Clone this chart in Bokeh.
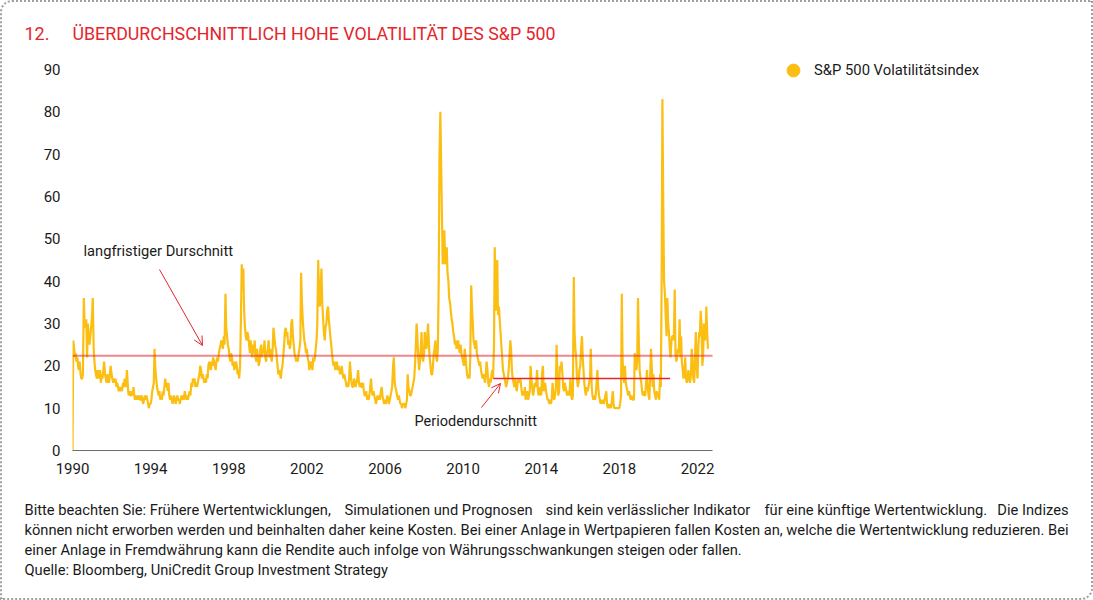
import pandas as pd
import numpy as np
from bokeh.plotting import figure
from bokeh.layouts import column
from bokeh.models import (Label, Arrow, OpenHead, FixedTicker, Legend, LegendItem,
                          ColumnDataSource, BasicTickFormatter)
from bokeh.embed import file_html
from bokeh.resources import INLINE

# ---------------------------------------------------------------------------
# Data: S&P 500 volatility index at the 1st and 15th of
# every month (24 readings per year), January 1990 – July 2022
# ---------------------------------------------------------------------------
vix_1990 = [0, 26, 24, 22, 23, 21, 22, 20, 19, 21, 18, 17, 17, 18, 36, 30, 29, 31, 22, 30, 27, 25, 27, 29]
vix_1991 = [32, 36, 24, 21, 19, 18, 17, 19, 18, 17, 19, 16, 18, 17, 19, 21, 18, 17, 16, 18, 17, 16, 18, 20]
vix_1992 = [18, 17, 16, 17, 16, 17, 15, 16, 15, 14, 15, 14, 15, 14, 16, 15, 17, 15, 16, 19, 15, 13, 14, 13]
vix_1993 = [13, 14, 13, 15, 13, 12, 13, 12, 13, 12, 13, 12, 12, 13, 12, 11, 12, 13, 12, 13, 12, 11, 10, 11]
vix_1994 = [11, 12, 14, 15, 16, 24, 19, 17, 15, 14, 13, 14, 12, 13, 12, 14, 13, 15, 17, 15, 16, 14, 16, 13]
vix_1995 = [12, 13, 12, 11, 12, 13, 12, 11, 12, 13, 12, 12, 11, 12, 13, 12, 13, 12, 14, 13, 12, 13, 12, 13]
vix_1996 = [14, 13, 16, 15, 17, 16, 17, 15, 16, 15, 16, 17, 18, 20, 19, 17, 18, 17, 16, 17, 16, 18, 17, 20]
vix_1997 = [21, 20, 19, 21, 20, 22, 21, 20, 19, 21, 22, 21, 23, 24, 25, 26, 25, 24, 27, 25, 37, 29, 27, 25]
vix_1998 = [24, 22, 21, 23, 22, 20, 21, 19, 20, 21, 20, 18, 19, 17, 20, 30, 44, 38, 43, 33, 29, 27, 26, 28]
vix_1999 = [27, 25, 23, 26, 24, 22, 25, 23, 26, 22, 21, 24, 22, 20, 21, 24, 25, 22, 24, 23, 26, 22, 21, 23]
vix_2000 = [24, 26, 22, 24, 22, 21, 24, 29, 27, 25, 24, 22, 20, 18, 19, 18, 17, 19, 20, 22, 25, 28, 29, 27]
vix_2001 = [28, 25, 26, 24, 25, 30, 31, 27, 25, 23, 22, 21, 22, 21, 23, 24, 26, 42, 35, 31, 28, 26, 25, 23]
vix_2002 = [24, 22, 21, 19, 20, 21, 20, 19, 22, 21, 22, 24, 26, 30, 45, 37, 34, 39, 43, 35, 31, 28, 26, 29]
vix_2003 = [30, 33, 34, 31, 29, 27, 25, 23, 21, 20, 21, 19, 20, 21, 19, 20, 19, 18, 19, 20, 18, 17, 18, 17]
vix_2004 = [16, 15, 16, 15, 17, 21, 18, 16, 15, 15, 17, 16, 15, 16, 17, 19, 16, 15, 16, 15, 15, 16, 14, 13]
vix_2005 = [13, 14, 12, 13, 12, 13, 15, 17, 14, 13, 14, 13, 12, 11, 12, 13, 12, 13, 12, 14, 15, 13, 12, 11]
vix_2006 = [12, 11, 12, 13, 12, 11, 12, 13, 14, 15, 20, 22, 16, 15, 14, 13, 12, 13, 12, 11, 11, 10, 11, 11]
vix_2007 = [11, 10, 11, 12, 18, 15, 14, 13, 13, 14, 15, 16, 17, 20, 25, 30, 26, 22, 19, 21, 24, 28, 22, 21]
vix_2008 = [23, 28, 25, 24, 27, 30, 25, 22, 20, 18, 18, 20, 23, 24, 26, 22, 21, 24, 40, 69, 80, 68, 55, 44]
vix_2009 = [45, 52, 44, 46, 48, 42, 40, 36, 35, 33, 31, 30, 28, 27, 25, 26, 24, 25, 26, 24, 23, 25, 23, 22]
vix_2010 = [21, 20, 24, 22, 20, 18, 17, 18, 17, 22, 39, 34, 30, 26, 25, 24, 26, 23, 22, 21, 20, 21, 19, 18]
vix_2011 = [17, 18, 17, 16, 18, 21, 19, 16, 15, 17, 16, 18, 19, 17, 25, 48, 33, 40, 45, 32, 34, 31, 28, 25]
vix_2012 = [22, 19, 18, 17, 16, 15, 16, 17, 19, 22, 26, 24, 19, 17, 16, 15, 17, 15, 14, 16, 17, 16, 17, 16]
vix_2013 = [14, 13, 14, 13, 15, 12, 13, 14, 12, 13, 14, 20, 17, 15, 13, 14, 16, 15, 16, 19, 14, 13, 14, 15]
vix_2014 = [13, 18, 20, 14, 15, 16, 14, 13, 12, 12, 11, 12, 11, 12, 16, 13, 12, 13, 15, 25, 16, 13, 14, 20]
vix_2015 = [19, 21, 18, 15, 14, 16, 15, 14, 13, 14, 13, 14, 17, 13, 12, 13, 41, 28, 24, 22, 17, 15, 16, 19]
vix_2016 = [20, 24, 27, 22, 19, 16, 14, 13, 15, 14, 15, 16, 17, 24, 15, 13, 12, 13, 12, 13, 16, 19, 15, 13]
vix_2017 = [12, 11, 12, 11, 12, 11, 12, 13, 14, 11, 10, 11, 10, 11, 10, 12, 14, 11, 10, 10, 10, 10, 10, 10]
vix_2018 = [10, 11, 13, 37, 22, 18, 16, 20, 16, 15, 14, 13, 14, 13, 12, 13, 12, 12, 12, 23, 20, 19, 21, 36]
vix_2019 = [25, 19, 17, 16, 14, 13, 14, 13, 13, 16, 19, 15, 13, 12, 18, 24, 19, 15, 18, 14, 13, 12, 14, 13]
vix_2020 = [13, 12, 18, 15, 40, 83, 57, 40, 37, 32, 27, 36, 30, 28, 24, 22, 26, 27, 27, 26, 38, 23, 21, 22]
vix_2021 = [24, 23, 31, 22, 27, 21, 19, 17, 18, 22, 17, 16, 17, 19, 17, 16, 18, 24, 21, 17, 16, 22, 28, 20]
vix_2022 = [17, 24, 28, 27, 33, 30, 20, 22, 30, 29, 26, 34, 28, 24]

vix_values = (vix_1990 + vix_1991 + vix_1992 + vix_1993 + vix_1994 + vix_1995 + vix_1996 +
              vix_1997 + vix_1998 + vix_1999 + vix_2000 + vix_2001 + vix_2002 + vix_2003 +
              vix_2004 + vix_2005 + vix_2006 + vix_2007 + vix_2008 + vix_2009 + vix_2010 +
              vix_2011 + vix_2012 + vix_2013 + vix_2014 + vix_2015 + vix_2016 + vix_2017 +
              vix_2018 + vix_2019 + vix_2020 + vix_2021 + vix_2022)

long_term_avg = 22.4                      # "langfristiger Durschnitt"
long_term_span = [1990.0, 2022.77]
period_avg = 17.0                         # "Periodendurschnitt"
period_dates = ["2011-07-20", "2020-08-05"]

x_tick_years = [1990, 1994, 1998, 2002, 2006, 2010, 2014, 2018, 2022]
y_ticks = [0, 10, 20, 30, 40, 50, 60, 70, 80, 90]

series_name = "S&P 500 Volatilitätsindex"
title_no = "12."
title_text = "ÜBERDURCHSCHNITTLICH HOHE VOLATILITÄT DES S&P 500"
label_long = "langfristiger Durschnitt"
label_period = "Periodendurschnitt"
note_line1 = ["Bitte beachten Sie: Frühere Wertentwicklungen,", "Simulationen und Prognosen",
              "sind kein verlässlicher Indikator", "für eine künftige Wertentwicklung.",
              "Die Indizes"]
note_line2 = ["können nicht erworben werden und beinhalten daher keine Kosten. Bei einer Anlage",
              "in Wertpapieren fallen Kosten an, welche die Wertentwicklung reduzieren. Bei"]
note_line3 = "einer Anlage in Fremdwährung kann die Rendite auch infolge von Währungsschwankungen steigen oder fallen."
note_line4 = "Quelle: Bloomberg, UniCredit Group Investment Strategy"

# ---------------------------------------------------------------------------
def frac_year(d):
    d = pd.DatetimeIndex(pd.to_datetime(d))
    return np.asarray(d.year + (d.dayofyear - 1) / 365.25, dtype=float)

dates = pd.date_range("1990-01-01", periods=len(vix_values), freq="SMS")
src = ColumnDataSource(dict(x=frac_year(dates), y=vix_values))

YELLOW = "#FBBF14"
RED = "#E4262C"
FONT = "Roboto"
TXT = "#1a1a1a"
W = 1089

def no_align(f):
    try:
        f.frame_align = False
    except Exception:
        pass
    return f

def blank_fig(h):
    f = figure(width=W, height=h, output_backend="svg", toolbar_location=None,
               x_range=(0, 1), y_range=(0, 1),
               min_border_left=0, min_border_right=0, min_border_top=0, min_border_bottom=0,
               background_fill_color="white", border_fill_color="white")
    f.axis.visible = False
    f.grid.visible = False
    f.outline_line_color = None
    return no_align(f)

def put(fig, txt, x, y, size, color=TXT, align="left"):
    fig.add_layout(Label(x=x, y=y, x_units="screen", y_units="screen", text=txt,
                         text_font=FONT, text_font_size=size, text_color=color,
                         text_align=align, text_baseline="middle"))

# ---------------- title strip (page y 2..50) ----------------
top = blank_fig(48)
put(top, title_no, 24 - 2, 50 - 33, "18px", RED)
put(top, title_text, 72 - 2, 50 - 33, "17.8px", RED)

# ---------------- main chart (page y 50..490) ----------------
PX_PER_YEAR = (697 - 72) / 32.0
PX_PER_UNIT = (450 - 69) / 90.0
x_end = 1990 + (1091 - 72) / PX_PER_YEAR
y_end = (450 - 50) / PX_PER_UNIT

p = figure(width=W, height=440, output_backend="svg", toolbar_location=None,
           x_range=(1990, x_end), y_range=(0, y_end),
           min_border_left=70, min_border_right=0, min_border_top=0, min_border_bottom=40,
           background_fill_color="white", border_fill_color="white")
no_align(p)
p.outline_line_color = None
p.grid.visible = False

p.line("x", "y", source=src, line_color=YELLOW, line_width=2.2)
p.line(long_term_span, [long_term_avg, long_term_avg], line_color=RED, line_alpha=0.55, line_width=2)
p.line(frac_year(period_dates), [period_avg, period_avg], line_color=RED, line_width=1.5)

p.xaxis.ticker = FixedTicker(ticks=x_tick_years)
p.xaxis.formatter = BasicTickFormatter(use_scientific=False)
p.xaxis.bounds = (1990, long_term_span[1])
p.yaxis.ticker = FixedTicker(ticks=y_ticks)
for ax in (p.xaxis[0], p.yaxis[0]):
    ax.major_tick_line_color = None
    ax.minor_tick_line_color = None
    ax.major_tick_out = 0
    ax.major_tick_in = 0
    ax.major_label_text_font = FONT
    ax.major_label_text_font_size = "15px"
    ax.major_label_text_color = TXT
    ax.major_label_standoff = 12
p.xaxis.axis_line_color = "#6e6e6e"
p.xaxis.axis_line_width = 1.2
p.yaxis.axis_line_color = None

def sx(rx):
    return rx - 72

def sy(ry):
    return 450 - ry

# legend key: a hidden marker renderer over the series (drawn only in the legend)
dot_r = p.scatter("x", "y", source=src, marker="circle", size=13,
                  fill_color=YELLOW, line_color=YELLOW)
dot_r.visible = False
legend = Legend(items=[LegendItem(label=series_name, renderers=[dot_r])],
                location=(sx(777), sy(70) - 16), orientation="vertical",
                border_line_color=None, background_fill_alpha=0,
                inactive_fill_alpha=0,
                padding=0, margin=0, spacing=0,
                glyph_width=32, glyph_height=32, label_standoff=5,
                label_text_font=FONT, label_text_font_size="14.8px", label_text_color=TXT)
p.add_layout(legend, "center")

put(p, label_long, sx(83), sy(250), "14.7px")
put(p, label_period, sx(414), sy(421), "14.5px")

p.add_layout(Arrow(end=OpenHead(size=9, line_color=RED, line_width=1),
                   x_start=sx(159), y_start=sy(269), x_end=sx(202), y_end=sy(345),
                   start_units="screen", end_units="screen", line_color=RED, line_width=1))
p.add_layout(Arrow(end=OpenHead(size=9, line_color=RED, line_width=1),
                   x_start=sx(481), y_start=sy(407), x_end=sx(500), y_end=sy(383),
                   start_units="screen", end_units="screen", line_color=RED, line_width=1))

# ---------------- footnote (page y 490..598) ----------------
foot = blank_fig(108)
NOTE = "14.7px"
def fy(ry):
    return 598 - ry
note_y = [509, 529, 549, 569]
# first line is justified in the original: pieces anchored across the width
line1_x = [24, 344, 545, 764]
for txt, rx in zip(note_line1[:4], line1_x):
    put(foot, txt, rx - 2, fy(note_y[0]), NOTE)
put(foot, note_line1[4], 1068 - 2, fy(note_y[0]), NOTE, align="right")
put(foot, note_line2[0], 24 - 2, fy(note_y[1]), NOTE)
put(foot, note_line2[1], 1068 - 2, fy(note_y[1]), NOTE, align="right")
put(foot, note_line3, 24 - 2, fy(note_y[2]), NOTE)
put(foot, note_line4, 24 - 2, fy(note_y[3]), NOTE)

layout = column(top, p, foot, spacing=0)
layout.styles = {"border": "2px dotted #a0a0a0", "border-radius": "12px 0 12px 0",
                 "overflow": "hidden"}

open("out.html", "w").write(file_html(layout, INLINE))
